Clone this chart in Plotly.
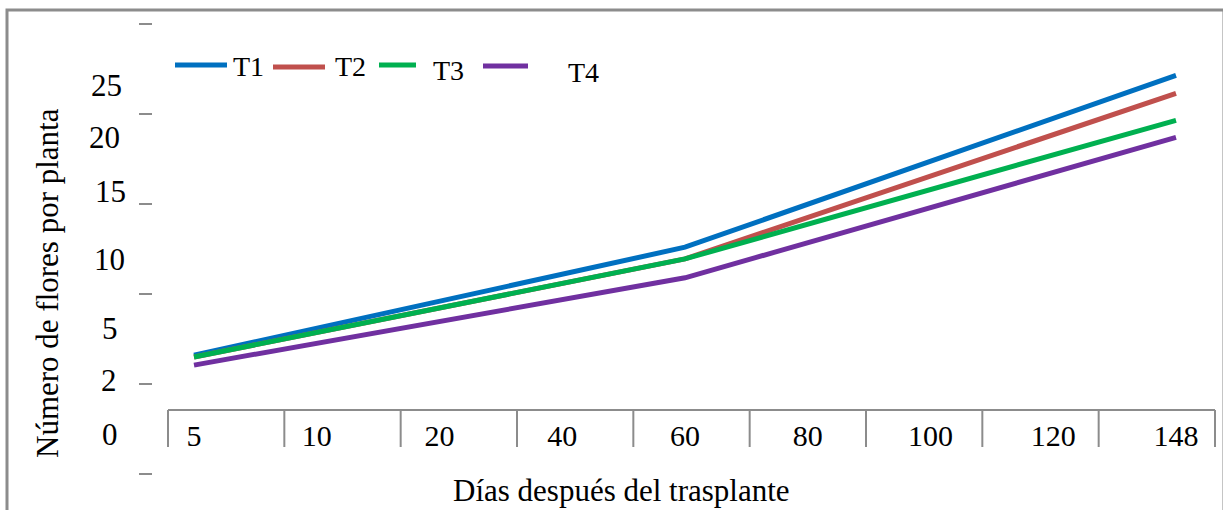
import plotly.graph_objects as go

# Days after transplant (x categories)
dias = ["5", "10", "20", "40", "60", "80", "100", "120", "148"]

# Flowers per plant for each treatment (measured at 5, 60 and 148 days)
t1 = [6.6, None, None, None, 12.6, None, None, None, 22.15]
t2 = [6.5, None, None, None, 11.95, None, None, None, 21.15]
t3 = [6.5, None, None, None, 11.95, None, None, None, 19.65]
t4 = [6.05, None, None, None, 10.9, None, None, None, 18.7]

series_names = ["T1", "T2", "T3", "T4"]
series_colors = ["#0070C0", "#C0504D", "#00B050", "#7030A0"]

# Printed value labels beside the vertical axis
y_label_text = ["25", "20", "15", "10", "5", "2", "0"]
y_label_pos = [21.56, 18.67, 15.67, 11.94, 8.11, 5.17, 2.22]
y_label_xpx = [106, 104, 110, 109, 110, 109, 110]

W, H = 1223, 510
TOP, BOTTOM = 24, 474          # pixel rows of y = 25 and y = 0
FONT = "Liberation Serif"
GRAY = "#8c8c8c"


def px(x):
    return x / W


def py(y):
    return (BOTTOM - y) / (BOTTOM - TOP)


fig = go.Figure()
for name, vals, col in zip(series_names, [t1, t2, t3, t4], series_colors):
    fig.add_trace(go.Scatter(
        x=dias, y=vals, name=name, mode="lines", connectgaps=True,
        line=dict(color=col, width=5), showlegend=False,
    ))

# category positions along the x axis (first and last category centres in px)
first_px, last_px = 194, 1176
step = (last_px - first_px) / (len(dias) - 1)
x_range = [-first_px / step, (W - first_px) / step]

shapes = []
# outer frame
shapes.append(dict(type="rect", xref="paper", yref="paper",
                   x0=px(7), x1=px(1224), y0=py(520), y1=py(10),
                   line=dict(color=GRAY, width=3)))
# category boxes beneath the lines
box_l, box_r, box_top, box_bot = 168, 1215, 410, 447
shapes.append(dict(type="line", xref="paper", yref="paper",
                   x0=px(box_l), x1=px(box_r), y0=py(box_top), y1=py(box_top),
                   line=dict(color=GRAY, width=2)))
n = len(dias)
for i in range(n + 1):
    xx = box_l + i * (box_r - box_l) / n
    shapes.append(dict(type="line", xref="paper", yref="paper",
                       x0=px(xx), x1=px(xx), y0=py(box_top), y1=py(box_bot),
                       line=dict(color=GRAY, width=2)))

# legend keys
legend_keys = [(175, 227, 65, 248, 67), (273, 325, 67, 350, 67),
               (379, 416, 65, 448, 70), (483, 528, 66, 583, 72)]
annotations = []
for (x0, x1, yl, xt, yt), name, col in zip(legend_keys, series_names, series_colors):
    shapes.append(dict(type="line", xref="paper", yref="paper",
                       x0=px(x0), x1=px(x1), y0=py(yl), y1=py(yl),
                       line=dict(color=col, width=5)))
    annotations.append(dict(x=px(xt), y=py(yt), xref="paper", yref="paper",
                            text=name, showarrow=False, xanchor="center",
                            yanchor="middle", font=dict(family=FONT, size=28, color="black")))

for txt, yv, xp in zip(y_label_text, y_label_pos, y_label_xpx):
    annotations.append(dict(x=px(xp), y=yv, xref="paper", yref="y", text=txt,
                            showarrow=False, xanchor="center", yanchor="middle",
                            font=dict(family=FONT, size=31, color="black")))

annotations.append(dict(x=px(47), y=py(283), xref="paper", yref="paper",
                        text="Número de flores por planta", textangle=-90,
                        showarrow=False, xanchor="center", yanchor="middle",
                        font=dict(family=FONT, size=31, color="black")))
annotations.append(dict(x=px(621), y=py(491), xref="paper", yref="paper",
                        text="Días después del trasplante",
                        showarrow=False, xanchor="center", yanchor="middle",
                        font=dict(family=FONT, size=31, color="black")))

fig.update_layout(
    width=W, height=H, autosize=False,
    margin=dict(l=0, r=0, t=TOP, b=H - BOTTOM, pad=0),
    paper_bgcolor="white", plot_bgcolor="white",
    xaxis=dict(type="category", categoryorder="array", categoryarray=dias,
               range=x_range, anchor="free", position=py(415),
               showgrid=False, zeroline=False, showline=False, ticks="",
               tickfont=dict(family=FONT, size=30, color="black")),
    yaxis=dict(range=[0, 25], tickvals=[0, 5, 10, 15, 20, 25],
               anchor="free", position=px(152),
               showgrid=False, zeroline=False, showline=False,
               ticks="outside", ticklen=13, tickwidth=2, tickcolor=GRAY,
               showticklabels=False),
    shapes=shapes,
    annotations=annotations,
)

fig.write_html("out.html")
